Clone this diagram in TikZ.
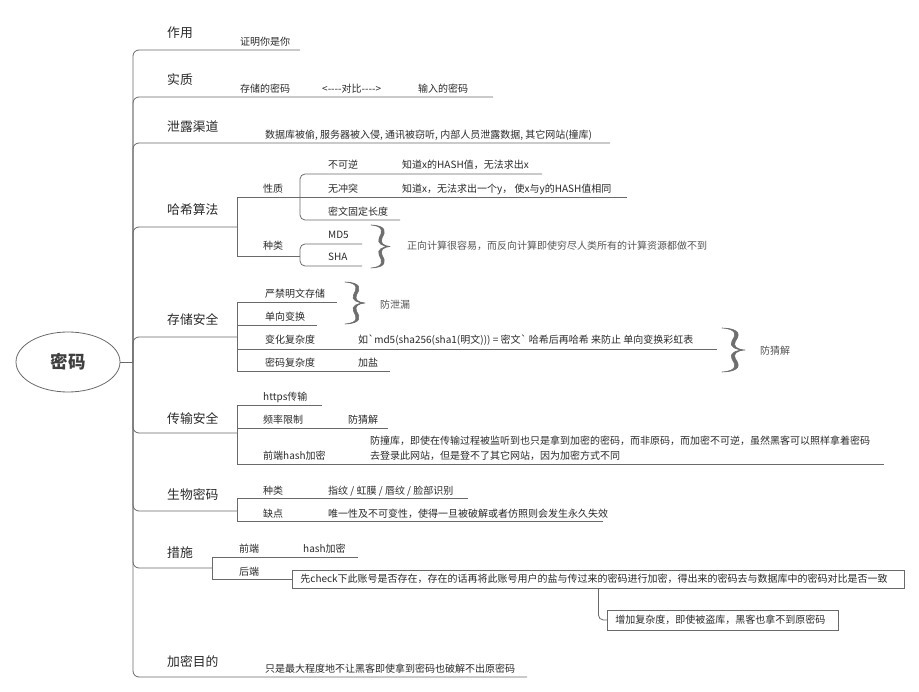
\documentclass[tikz,border=0pt]{standalone}
\usepackage{fontspec}
\newfontfamily\cjk{Noto Sans CJK SC}
\usetikzlibrary{shapes.geometric}
\definecolor{lc}{HTML}{6A6A6A}
\definecolor{tc}{HTML}{2A2A2A}
\definecolor{gc}{HTML}{555555}
\tikzset{
  tp/.style={font=\cjk\fontsize{12.8}{15}\selectfont, text=tc, anchor=base west, inner sep=0pt},
  lf/.style={font=\cjk\fontsize{10}{12}\selectfont, text=tc, anchor=base west, inner sep=0pt},
  nt/.style={lf, text=gc},
  ln/.style={draw=lc, line width=0.8pt},
  rc/.style={ln, rounded corners=5pt},
  brc/.style={draw=gc!85, fill=gc!85, line width=0.6pt, line join=round},
  bx/.style={lf, draw=lc, line width=0.8pt, anchor=west, inner xsep=8pt, inner ysep=0pt, align=left},
}
\newcommand\mybrace[4]{%
  \begin{scope}[shift={(#1,{(#2+#4)/2})}, xscale={#3-#1}, yscale={(#4-#2)/2}]
    \path[brc] (0,-1) .. controls (0.7,-0.95) and (0.6,-0.65) .. (0.43,-0.4)
      .. controls (0.3,-0.15) and (0.6,0) .. (1,0)
      .. controls (0.6,0) and (0.3,0.15) .. (0.43,0.4)
      .. controls (0.6,0.65) and (0.7,0.95) .. (0,1)
      .. controls (0.86,0.97) and (0.76,0.65) .. (0.58,0.4)
      .. controls (0.46,0.17) and (0.65,0.02) .. (1,0)
      .. controls (0.65,-0.02) and (0.46,-0.17) .. (0.58,-0.4)
      .. controls (0.76,-0.65) and (0.86,-0.97) .. (0,-1) -- cycle;
  \end{scope}}
\begin{document}
\begin{tikzpicture}[x=1pt,y=-1pt]
\fill[white] (0,0) rectangle (919,692);
\useasboundingbox (0,0) rectangle (919,692);

% root
\node[draw=lc, line width=0.8pt, ellipse, minimum width=104pt, minimum height=60pt, inner sep=0pt,
      font=\cjk\bfseries\fontsize{17.5}{20}\selectfont, text=tc!90] (root) at (68,362) {密码};
\coordinate (hub) at (133,362);
\draw[ln] (root.east) -- (hub);
\foreach \y/\e in {50/300, 97/493, 143/610, 227/237, 337/237, 433/237, 511/237, 568/212, 677/527}
  \draw[ln, rounded corners=6pt] (hub) -- (133,\y) -- (\e,\y);

% topics
\node[tp] (t1) at (167,38) {作用};
\node[tp] (t2) at (167,85) {实质};
\node[tp] (t3) at (167,132) {泄露渠道};
\node[tp] (t4) at (167,215) {哈希算法};
\node[tp] (t5) at (167,325) {存储安全};
\node[tp] (t6) at (167,424) {传输安全};
\node[tp] (t7) at (167,500) {生物密码};
\node[tp] (t8) at (167,558) {措施};
\node[tp] (t9) at (167,666) {加密目的};

% 作用 / 实质 / 泄露渠道
\node[lf] (zy1) at (240,46) {证明你是你};
\node[lf] (sz1) at (240,93) {存储的密码};
\node[lf] (sz2) at (322,93) {<-{}-{}-{}-对比-{}-{}-{}->};
\node[lf] (sz3) at (418,93) {输入的密码};
\node[lf] (xl1) at (265,139) {数据库被偷, 服务器被入侵, 通讯被窃听, 内部人员泄露数据, 其它网站(撞库)};

% 哈希算法
\draw[ln] (237,197) -- (237,256);
\draw[ln] (237,197) -- (627,197);
\draw[rc] (300,197) -- (300,174) -- (542,174);
\draw[rc] (300,197) -- (300,220) -- (400,220);
\draw[ln] (237,256) -- (300,256);
\draw[rc] (300,256) -- (300,244) -- (362,244);
\draw[rc] (300,256) -- (300,266) -- (362,266);
\node[lf] (xz) at (263,193) {性质};
\node[lf] (bkn) at (328,169) {不可逆};
\node[lf] (bkn1) at (402,169) {知道x的HASH值，无法求出x};
\node[lf] (wct) at (328,193) {无冲突};
\node[lf] (wct1) at (402,193) {知道x，无法求出一个y， 使x与y的HASH值相同};
\node[lf] (mw) at (328,216) {密文固定长度};
\node[lf] (zl) at (263,250) {种类};
\node[lf] (md5) at (328,239) {MD5};
\node[lf] (sha) at (328,261) {SHA};
\mybrace{371}{225}{390}{268}
\node[nt] (hsn) at (407,250) {正向计算很容易，而反向计算即使穷尽人类所有的计算资源都做不到};

% 存储安全
\draw[ln] (237,302) -- (237,371);
\draw[ln] (237,302) -- (337,302);
\draw[ln] (237,325) -- (317,325);
\draw[ln] (237,349) -- (717,349);
\draw[ln] (237,371) -- (390,371);
\node[lf] (cc1) at (265,298) {严禁明文存储};
\node[lf] (cc2) at (265,321) {单向变换};
\node[lf] (cc3) at (265,344) {变化复杂度};
\node[lf] (cc3a) at (358,344) {如\textasciigrave md5(sha256(sha1(明文))) = 密文\textasciigrave{} 哈希后再哈希 来防止 单向变换彩虹表};
\node[lf] (cc4) at (265,367) {密码复杂度};
\node[lf] (cc4a) at (358,367) {加盐};
\mybrace{345}{282}{365}{324}
\node[nt] (fxl) at (380,309) {防泄漏};
\mybrace{722}{328}{745}{372}
\node[nt] (fcj) at (760,355) {防猜解};

% 传输安全
\draw[ln] (237,405) -- (237,464);
\draw[ln] (237,405) -- (322,405);
\draw[ln] (237,428) -- (388,428);
\draw[ln] (237,464) -- (884,464);
\node[lf] (cs1) at (263,401) {https传输};
\node[lf] (cs2) at (263,424) {频率限制};
\node[lf] (cs2a) at (348,424) {防猜解};
\node[lf] (cs3) at (263,460) {前端hash加密};
\node[lf] (cs3a) at (370,445) {防撞库，即使在传输过程被监听到也只是拿到加密的密码，而非原码，而加密不可逆，虽然黑客可以照样拿着密码};
\node[lf] (cs3b) at (370,460) {去登录此网站，但是登不了其它网站，因为加密方式不同};

% 生物密码
\draw[ln] (237,498) -- (237,521);
\draw[ln] (237,498) -- (468,498);
\draw[ln] (237,521) -- (603,521);
\node[lf] (sw1) at (263,495) {种类};
\node[lf] (sw1a) at (328,495) {指纹 / 虹膜 / 唇纹 / 脸部识别};
\node[lf] (sw2) at (263,518) {缺点};
\node[lf] (sw2a) at (328,518) {唯一性及不可变性，使得一旦被破解或者仿照则会发生永久失效};

% 措施
\node[bx, text width=596pt, minimum height=18pt] (bk) at (292,579) {先check下此账号是否存在，存在的话再将此账号用户的盐与传过来的密码进行加密，得出来的密码去与数据库中的密码对比是否一致};
\node[bx, text width=215pt, minimum height=20pt] (b2) at (607,620) {增加复杂度，即使被盗库，黑客也拿不到原密码};
\draw[ln] (212,557) -- (212,579) -- (bk.west);
\draw[ln] (212,557) -- (358,557);
\draw[ln, rounded corners=5pt] (bk.south) |- (b2.west);
\node[lf] (qd) at (239,553) {前端};
\node[lf] (hj) at (303,553) {hash加密};
\node[lf] (hd) at (239,576) {后端};

% 加密目的
\node[lf] (md1) at (265,672) {只是最大程度地不让黑客即使拿到密码也破解不出原密码};
\end{tikzpicture}
\end{document}
